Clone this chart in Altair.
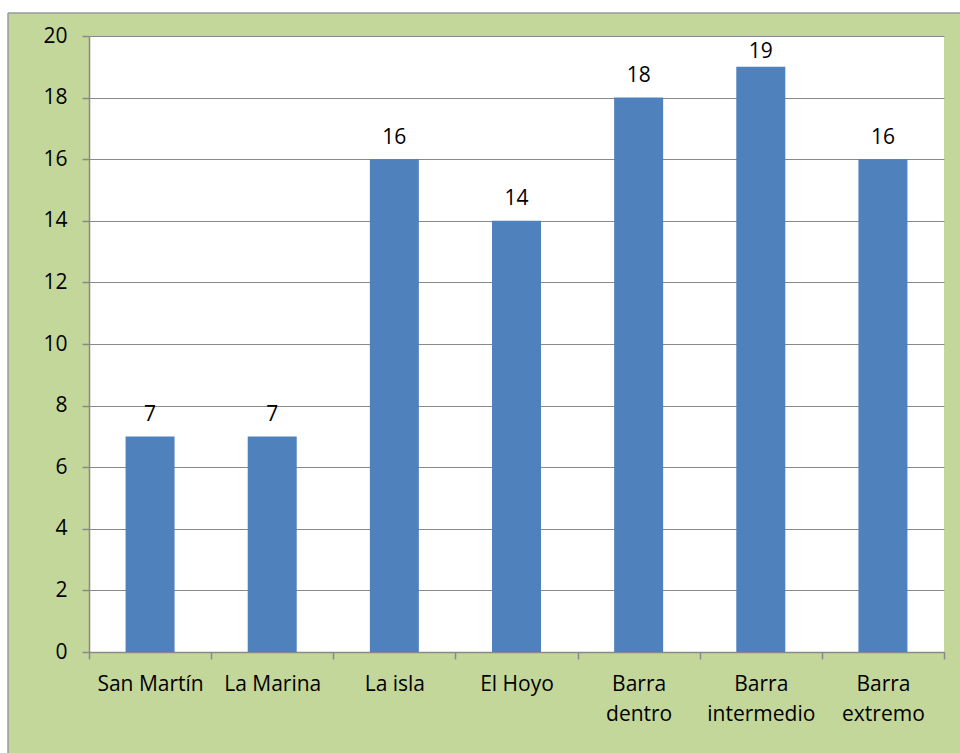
import altair as alt
import pandas as pd

# Sampling sites and counts per site
sites = ["San Martín", "La Marina", "La isla", "El Hoyo",
         "Barra dentro", "Barra intermedio", "Barra extremo"]
counts = [7, 7, 16, 14, 18, 19, 16]

df = pd.DataFrame({"site": sites, "count": counts})

W, H = 855, 616
PAD_L, PAD_T, PAD_R, PAD_B = 89, 36, 16, 101
FONT = "Open Sans"
FSIZE = 21
GREEN = "#c4d79b"
BLUE = "#4f81bd"
GRAY = "#898989"

x_enc = alt.X(
    "site:N",
    sort=sites,
    title=None,
    scale=alt.Scale(paddingInner=0, paddingOuter=0),
    axis=alt.Axis(
        labelAngle=0,
        labelFont=FONT,
        labelFontSize=FSIZE,
        labelColor="#000000",
        labelBaseline="alphabetic",
        labelPadding=31,
        labelLineHeight=30,
        labelExpr="indexof(datum.label, 'Barra') == 0 ? split(datum.label, ' ') : datum.label",
        tickBand="extent",
        tickSize=7,
        tickColor=GRAY,
        tickWidth=1.5,
        domainColor=GRAY,
        domainWidth=1.5,
        grid=False,
    ),
)

y_enc = alt.Y(
    "count:Q",
    title=None,
    scale=alt.Scale(domain=[0, 20], nice=False),
    axis=alt.Axis(
        values=list(range(0, 21, 2)),
        labelFont=FONT,
        labelFontSize=FSIZE,
        labelColor="#000000",
        labelPadding=15,
        tickSize=7,
        tickColor=GRAY,
        tickWidth=1.5,
        domainColor=GRAY,
        domainWidth=1.5,
        grid=True,
        gridColor=GRAY,
        gridWidth=1,
    ),
)

bars = alt.Chart(df).mark_bar(color=BLUE, size=49).encode(x=x_enc, y=y_enc)

# Value labels sit just above each bar, kept inside the plot area near the top
labels = alt.Chart(df).transform_calculate(
    label_y="min(datum.count + 0.5, 19.28)"
).mark_text(
    font=FONT, fontSize=FSIZE, color="#000000", baseline="alphabetic"
).encode(
    x=alt.X("site:N", sort=sites),
    y=alt.Y("label_y:Q"),
    text=alt.Text("count:Q"),
)

# Frame: white page margin above and left of the green panel, with a grey edge
one = alt.Data(values=[{}])
top_strip = alt.Chart(one).mark_rect(color="white").encode(
    x=alt.value(-PAD_L), x2=alt.value(W + PAD_R),
    y=alt.value(-PAD_T), y2=alt.value(-23),
)
left_strip = alt.Chart(one).mark_rect(color="white").encode(
    x=alt.value(-PAD_L), x2=alt.value(-81),
    y=alt.value(-PAD_T), y2=alt.value(H + PAD_B),
)
top_edge = alt.Chart(one).mark_rule(color="#9a9a9a", strokeWidth=1.5).encode(
    x=alt.value(-81), x2=alt.value(W + PAD_R), y=alt.value(-23),
)
left_edge = alt.Chart(one).mark_rule(color="#9a9a9a", strokeWidth=1.5).encode(
    x=alt.value(-81), y=alt.value(-23), y2=alt.value(H + PAD_B),
)

chart = alt.layer(
    bars, labels, top_strip, left_strip, top_edge, left_edge
).properties(
    width=W,
    height=H,
    padding={"left": PAD_L, "top": PAD_T, "right": PAD_R, "bottom": PAD_B},
    autosize=alt.AutoSizeParams(type="none"),
    background=GREEN,
).configure_view(
    fill="white",
    stroke=None,
)

chart.save("out.html", embed_options={"renderer": "svg", "actions": False})
